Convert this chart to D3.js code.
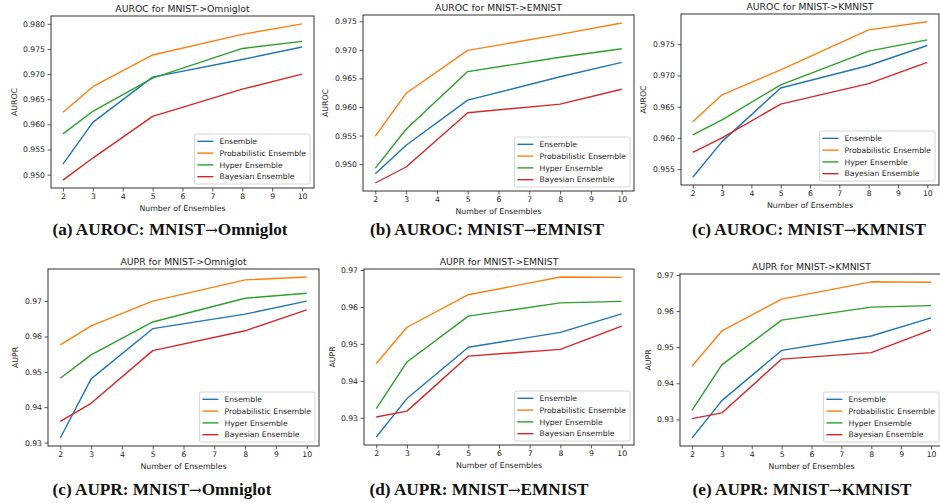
<!DOCTYPE html>
<html>
<head>
<meta charset="utf-8">
<script src="https://cdn.jsdelivr.net/npm/d3@7"></script>
<style>
  html, body { margin: 0; padding: 0; background: #fff; }
  svg { display: block; }
  .tick text { font-family: "DejaVu Sans", sans-serif; fill: #262626; }
</style>
</head>
<body>
<svg id="chart" width="940" height="503"></svg>
<script>
// Ensemble sizes on the x axis
const ensembleSizes = [2, 3, 5, 8, 10];
const seriesNames = ["Ensemble", "Probabilistic Ensemble", "Hyper Ensemble", "Bayesian Ensemble"];
const seriesColors = ["#1f77b4", "#ff7f0e", "#2ca02c", "#d62728"];

// AUROC, one row per series (same order as seriesNames)
const aurocOmniglot = [
  [0.9521, 0.9604, 0.9694, 0.9729, 0.9754],
  [0.9624, 0.9675, 0.9738, 0.9779, 0.9800],
  [0.9581, 0.9626, 0.9692, 0.9751, 0.9765],
  [0.9489, 0.9533, 0.9616, 0.9670, 0.9700]
];
const aurocEmnist = [
  [0.9483, 0.9533, 0.9612, 0.9653, 0.9678],
  [0.9549, 0.9624, 0.9699, 0.9727, 0.9747],
  [0.9493, 0.9561, 0.9662, 0.9687, 0.9702],
  [0.9467, 0.9495, 0.9590, 0.9605, 0.9631]
];
const aurocKmnist = [
  [0.9537, 0.9594, 0.9680, 0.9716, 0.9748],
  [0.9626, 0.9669, 0.9709, 0.9773, 0.9786],
  [0.9605, 0.9629, 0.9685, 0.9739, 0.9757],
  [0.9577, 0.9600, 0.9654, 0.9687, 0.9721]
];

// AUPR, one row per series
const auprOmniglot = [
  [0.9313, 0.9480, 0.9622, 0.9663, 0.9700],
  [0.9576, 0.9630, 0.9700, 0.9760, 0.9768],
  [0.9482, 0.9548, 0.9641, 0.9708, 0.9722],
  [0.9360, 0.9411, 0.9560, 0.9616, 0.9675]
];
const auprEmnist = [
  [0.9248, 0.9352, 0.9491, 0.9531, 0.9581],
  [0.9447, 0.9545, 0.9633, 0.9681, 0.9680],
  [0.9325, 0.9451, 0.9575, 0.9611, 0.9615],
  [0.9302, 0.9318, 0.9467, 0.9485, 0.9548]
];
const auprKmnist = [
  [0.9248, 0.9352, 0.9491, 0.9531, 0.9581],
  [0.9447, 0.9545, 0.9633, 0.9681, 0.9680],
  [0.9325, 0.9451, 0.9575, 0.9611, 0.9615],
  [0.9302, 0.9318, 0.9467, 0.9485, 0.9548]
];

// Tick values
const xTicks = [2, 3, 4, 5, 6, 7, 8, 9, 10];
const aurocOmniglotTicks = [0.950, 0.955, 0.960, 0.965, 0.970, 0.975, 0.980];
const aurocEmnistTicks = [0.950, 0.955, 0.960, 0.965, 0.970, 0.975];
const aurocKmnistTicks = [0.955, 0.960, 0.965, 0.970, 0.975];
const auprTicks = [0.93, 0.94, 0.95, 0.96, 0.97];

// Panel titles, y labels and captions (caption split around the arrow)
const panelTitles = ["AUROC for MNIST->Omniglot", "AUROC for MNIST->EMNIST", "AUROC for MNIST->KMNIST",
                     "AUPR for MNIST->Omniglot", "AUPR for MNIST->EMNIST", "AUPR for MNIST->KMNIST"];
const panelYLabels = ["AUROC", "AUROC", "AUROC", "AUPR", "AUPR", "AUPR"];
const captionHeads = ["(a) AUROC: MNIST", "(b) AUROC: MNIST", "(c) AUROC: MNIST",
                      "(c) AUPR: MNIST", "(d) AUPR: MNIST", "(e) AUPR: MNIST"];
const captionTails = ["Omniglot", "EMNIST", "KMNIST", "Omniglot", "EMNIST", "KMNIST"];
const xLabel = "Number of Ensembles";

const panelData = [aurocOmniglot, aurocEmnist, aurocKmnist, auprOmniglot, auprEmnist, auprKmnist];
const panelTicks = [aurocOmniglotTicks, aurocEmnistTicks, aurocKmnistTicks, auprTicks, auprTicks, auprTicks];
const panelFormats = [".3f", ".3f", ".3f", ".2f", ".2f", ".2f"];

// Plot-area boxes for the 2x3 grid (left, top, right, bottom) and caption anchors
const boxes = [
  {l: 51, t: 16, r: 314, b: 188, ylab: 14, cx: 170, cy: 235},
  {l: 363, t: 15, r: 634, b: 191, ylab: 325, cx: 487, cy: 235},
  {l: 681, t: 14, r: 939, b: 185, ylab: 643, cx: 809, cy: 235},
  {l: 48, t: 269, r: 319, b: 446, ylab: 15, cx: 162, cy: 495},
  {l: 364, t: 269, r: 634, b: 445, ylab: 332, cx: 479, cy: 495},
  {l: 680, t: 274, r: 943, b: 446, ylab: 648, cx: 802, cy: 495}
];

const svg = d3.select("#chart");
const tickFont = 7.7;
const textColor = "#262626";

panelData.forEach((data, i) => {
  const box = boxes[i];
  const all = data.flat();
  const [ymin, ymax] = d3.extent(all);
  const ypad = (ymax - ymin) * 0.05;
  const xpad = (d3.max(ensembleSizes) - d3.min(ensembleSizes)) * 0.05;

  const x = d3.scaleLinear()
    .domain([d3.min(ensembleSizes) - xpad, d3.max(ensembleSizes) + xpad])
    .range([box.l, box.r]);
  const y = d3.scaleLinear()
    .domain([ymin - ypad, ymax + ypad])
    .range([box.b, box.t]);

  const g = svg.append("g");

  // clip to the plot area
  const clipId = "clip" + i;
  g.append("clipPath").attr("id", clipId)
    .append("rect").attr("x", box.l).attr("y", box.t)
    .attr("width", box.r - box.l).attr("height", box.b - box.t);

  const line = d3.line().x((d, k) => x(ensembleSizes[k])).y(d => y(d));
  const plot = g.append("g").attr("clip-path", `url(#${clipId})`);
  data.forEach((vals, s) => {
    plot.append("path")
      .datum(vals)
      .attr("d", line)
      .attr("fill", "none")
      .attr("stroke", seriesColors[s])
      .attr("stroke-width", 1.4)
      .attr("stroke-linejoin", "round");
  });

  // axes
  const xAxis = d3.axisBottom(x).tickValues(xTicks).tickFormat(d3.format("d")).tickSize(3.5).tickPadding(2.5);
  const yAxis = d3.axisLeft(y).tickValues(panelTicks[i]).tickFormat(d3.format(panelFormats[i])).tickSize(3.5).tickPadding(2.5);

  const gx = g.append("g").attr("transform", `translate(0,${box.b})`).call(xAxis);
  const gy = g.append("g").attr("transform", `translate(${box.l},0)`).call(yAxis);
  [gx, gy].forEach(a => {
    a.select(".domain").remove();
    a.selectAll(".tick line").attr("stroke", "#333").attr("stroke-width", 0.8);
    a.selectAll(".tick text").attr("font-size", tickFont).attr("fill", textColor);
  });

  // frame
  g.append("rect")
    .attr("x", box.l).attr("y", box.t)
    .attr("width", box.r - box.l).attr("height", box.b - box.t)
    .attr("fill", "none").attr("stroke", "#333").attr("stroke-width", 1);

  // title
  g.append("text")
    .attr("x", (box.l + box.r) / 2).attr("y", box.t - 4)
    .attr("text-anchor", "middle")
    .attr("font-family", "DejaVu Sans, sans-serif")
    .attr("font-size", 9.3).attr("fill", textColor)
    .text(panelTitles[i]);

  // x label
  g.append("text")
    .attr("x", (box.l + box.r) / 2).attr("y", box.b + 23)
    .attr("text-anchor", "middle")
    .attr("font-family", "DejaVu Sans, sans-serif")
    .attr("font-size", 7.8).attr("fill", textColor)
    .text(xLabel);

  // y label
  g.append("text")
    .attr("transform", `translate(${box.ylab},${(box.t + box.b) / 2}) rotate(-90)`)
    .attr("text-anchor", "middle").attr("dy", "0.35em")
    .attr("font-family", "DejaVu Sans, sans-serif")
    .attr("font-size", 7.8).attr("fill", textColor)
    .text(panelYLabels[i]);

  // legend, lower right
  const rowH = 11.8, padTop = 7.3, padL = 3, handle = 16, gap = 6, padR = 4;
  const leg = g.append("g");
  const bg = leg.append("rect");
  const labels = [];
  seriesNames.forEach((name, s) => {
    const yy = padTop + s * rowH;
    leg.append("line")
      .attr("x1", padL).attr("x2", padL + handle)
      .attr("y1", yy).attr("y2", yy)
      .attr("stroke", seriesColors[s]).attr("stroke-width", 1.4);
    labels.push(leg.append("text")
      .attr("x", padL + handle + gap).attr("y", yy).attr("dy", "0.35em")
      .attr("font-family", "DejaVu Sans, sans-serif")
      .attr("font-size", tickFont).attr("fill", textColor)
      .text(name));
  });
  const textW = d3.max(labels, t => t.node().getComputedTextLength());
  const legW = padL + handle + gap + textW + padR;
  const legH = padTop * 2 + rowH * (seriesNames.length - 1);
  bg.attr("x", 0).attr("y", 0).attr("width", legW).attr("height", legH)
    .attr("rx", 2).attr("fill", "#fff").attr("fill-opacity", 0.8)
    .attr("stroke", "#ccc").attr("stroke-width", 0.8);
  leg.attr("transform", `translate(${box.r - 4 - legW},${box.b - 4 - legH})`);

  // caption below the panel
  const cap = svg.append("text")
    .attr("x", box.cx).attr("y", box.cy)
    .attr("text-anchor", "middle")
    .attr("font-family", "Liberation Serif, Times New Roman, serif")
    .attr("font-weight", "bold")
    .attr("font-size", 17.2).attr("fill", "#111");
  cap.append("tspan").text(captionHeads[i]);
  cap.append("tspan")
    .attr("font-family", "DejaVu Serif, serif")
    .attr("font-weight", "normal")
    .attr("font-size", 15)
    .text("\u2192");
  cap.append("tspan").text(captionTails[i]);
});
</script>
</body>
</html>
